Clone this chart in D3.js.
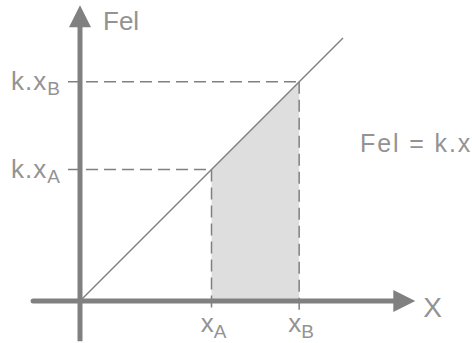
<!DOCTYPE html>
<html>
<head>
<meta charset="utf-8">
<script src="https://cdn.jsdelivr.net/npm/d3@7/dist/d3.min.js"></script>
<style>
  html, body { margin: 0; padding: 0; background: #fff; }
  svg { display: block; font-family: "Liberation Sans", Arial, sans-serif; }
</style>
</head>
<body>
<svg id="chart" width="472" height="343"></svg>
<script>
// Spring force Fel = k.x and the work between two elongations
const k = 1;
const pointValues = [3, 5];          // elongations xA, xB
const pointNames = ["A", "B"];
const lineDomain = [0, 6];           // extent of the Fel = k.x line
const xAxisSpan = [-1.07, 7.65];     // drawn extent of the X axis
const yAxisSpan = [-0.92, 6.75];     // drawn extent of the Fel axis
const axisTitles = { x: "X", y: "Fel" };
const lawLabel = "Fel = k.x";

const axisColor = "#808080";
const textColor = "#939393";
const fillColor = "#dedede";

const svg = d3.select("#chart");
const x = d3.scaleLinear().domain([0, 6]).range([80, 343]);
const y = d3.scaleLinear().domain([0, 6]).range([301, 38]);

// shaded area under the line between xA and xB
const area = d3.area()
  .x(d => x(d))
  .y0(y(0))
  .y1(d => y(k * d));
svg.append("path")
  .datum(pointValues)
  .attr("d", area)
  .attr("fill", fillColor);

// dashed guides
const dash = "12,6";
svg.selectAll("line.hguide")
  .data(pointValues)
  .join("line")
  .attr("class", "hguide")
  .attr("x1", 68).attr("x2", d => x(d))
  .attr("y1", d => y(k * d)).attr("y2", d => y(k * d))
  .attr("stroke", axisColor).attr("stroke-width", 1.5)
  .attr("stroke-dasharray", dash);
svg.selectAll("line.vguide")
  .data(pointValues)
  .join("line")
  .attr("class", "vguide")
  .attr("x1", d => x(d)).attr("x2", d => x(d))
  .attr("y1", d => y(k * d)).attr("y2", y(0) + 12)
  .attr("stroke", axisColor).attr("stroke-width", 1.5)
  .attr("stroke-dasharray", dash);

// the law Fel = k.x
const line = d3.line().x(d => x(d)).y(d => y(k * d));
svg.append("path")
  .datum(lineDomain)
  .attr("d", line)
  .attr("fill", "none")
  .attr("stroke", axisColor)
  .attr("stroke-width", 1.5);

// axes with arrow heads
const ah = 22, aw = 11;
const xTip = x(xAxisSpan[1]), yTip = y(yAxisSpan[1]);
svg.append("line")
  .attr("x1", x(xAxisSpan[0])).attr("x2", xTip - ah + 2)
  .attr("y1", y(0)).attr("y2", y(0))
  .attr("stroke", axisColor).attr("stroke-width", 5)
  .attr("stroke-linecap", "round");
svg.append("path")
  .attr("d", `M${xTip},${y(0)} L${xTip - ah},${y(0) - aw} L${xTip - ah},${y(0) + aw} Z`)
  .attr("fill", axisColor);
svg.append("line")
  .attr("x1", x(0)).attr("x2", x(0))
  .attr("y1", y(yAxisSpan[0])).attr("y2", yTip + ah - 2)
  .attr("stroke", axisColor).attr("stroke-width", 5);
svg.append("path")
  .attr("d", `M${x(0)},${yTip} L${x(0) - aw},${yTip + ah} L${x(0) + aw},${yTip + ah} Z`)
  .attr("fill", axisColor);

// axis titles
svg.append("text")
  .attr("x", x(0) + 23).attr("y", yTip + 25)
  .attr("font-size", 26).attr("fill", textColor)
  .text(axisTitles.y);
svg.append("text")
  .attr("x", xTip + 8).attr("y", y(0) + 16)
  .attr("font-size", 28).attr("fill", textColor)
  .text(axisTitles.x);

// value labels on the Fel axis
const yLabels = svg.selectAll("text.ylab")
  .data(pointValues)
  .join("text")
  .attr("class", "ylab")
  .attr("x", 60)
  .attr("y", d => y(k * d) + 8)
  .attr("text-anchor", "end")
  .attr("fill", textColor);
yLabels.append("tspan").attr("font-size", 26).attr("letter-spacing", 1).text("k.x");
yLabels.append("tspan").attr("font-size", 19).attr("dy", 5).text((d, i) => pointNames[i]);

// value labels on the X axis
const xLabels = svg.selectAll("text.xlab")
  .data(pointValues)
  .join("text")
  .attr("class", "xlab")
  .attr("x", d => x(d) + 2)
  .attr("y", y(0) + 31)
  .attr("text-anchor", "middle")
  .attr("fill", textColor);
xLabels.append("tspan").attr("font-size", 26).text("x");
xLabels.append("tspan").attr("font-size", 19).attr("dy", 6).text((d, i) => pointNames[i]);

// equation label
svg.append("text")
  .attr("x", 360).attr("y", 152)
  .attr("font-size", 25).attr("letter-spacing", 1.9)
  .attr("fill", textColor)
  .text(lawLabel);
</script>
</body>
</html>
